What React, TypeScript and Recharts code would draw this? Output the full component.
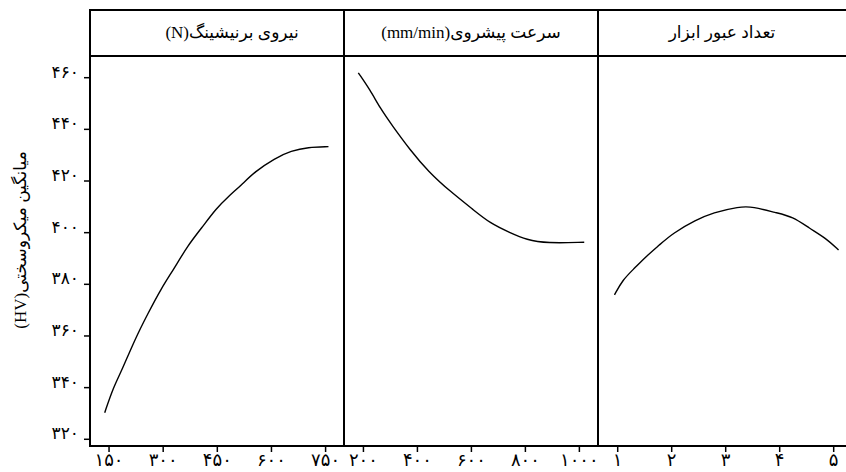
import React from "react";
import { LineChart, Line, XAxis, YAxis } from "recharts";

// y axis (mean microhardness HV)
const yTicks = [320, 340, 360, 380, 400, 420, 440, 460];

// panel 1: burnishing force (N)
const forceTicks = [150, 300, 450, 600, 750];
const forceX = [138, 161, 184, 221, 258, 295, 328, 369, 406, 447, 480, 517, 554, 609, 655, 701, 758];
const forceY = [330.3, 339.8, 346.2, 358.5, 368.8, 378.5, 385.6, 395.2, 401.7, 409.4, 413.9, 418.5, 423.6, 428.8, 431.7, 433.1, 433.3];

// panel 2: feed rate (mm/min)
const feedTicks = [200, 400, 600, 800, 1000];
const feedX = [181, 225, 262, 305, 373, 441, 522, 608, 670, 743, 805, 879, 1018];
const feedY = [461.9, 455.2, 448.2, 441.7, 432, 423.6, 415.9, 408.8, 403.6, 400, 397.2, 395.9, 396.3];

// panel 3: number of tool passes
const passTicks = [1, 2, 3, 4, 5];
const passX = [0.94, 1.09, 1.31, 1.52, 1.77, 2.02, 2.45, 2.76, 3.25, 3.5, 3.93, 4.24, 4.55, 4.86, 5.09];
const passY = [375.9, 381.7, 386.2, 390.7, 395.2, 399.8, 404.9, 407.7, 410.1, 410.1, 407.7, 406.2, 401.7, 397.8, 393.3];

const titles = ["نیروی برنیشینگ(N)", "سرعت پیشروی(mm/min)", "تعداد عبور ابزار"];
const yTitle = "میانگین میکروسختی(HV)";

const faDigits = "۰۱۲۳۴۵۶۷۸۹";
const toFa = (v: number) => String(v).replace(/\d/g, (d) => faDigits[Number(d)]);

const zip = (xs: number[], ys: number[]) => xs.map((x, i) => ({ x, y: ys[i] }));

const FONT = "'Times New Roman', 'Liberation Serif', 'DejaVu Sans', serif";
const Y_DOMAIN: [number, number] = [317.4, 468.4];

const YTick = (props: any) => {
  const { x, y, payload } = props;
  return (
    <text x={x} y={y - 6} dy="0.35em" textAnchor="end" fill="#000" fontSize={17} fontFamily={FONT}>
      {toFa(payload.value)}
    </text>
  );
};

const XTick = (props: any) => {
  const { x, y, payload } = props;
  return (
    <text x={x} y={y} dy="0.71em" textAnchor="middle" fill="#000" fontSize={18} fontFamily={FONT}>
      {toFa(payload.value)}
    </text>
  );
};

function Panel({
  left,
  width,
  domain,
  ticks,
  data,
  showY,
}: {
  left: number;
  width: number;
  domain: [number, number];
  ticks: number[];
  data: { x: number; y: number }[];
  showY: boolean;
}) {
  return (
    <div style={{ position: "absolute", left, top: 0 }}>
      <LineChart
        width={width}
        height={472}
        data={data}
        margin={{ top: 56, right: 0, left: 0, bottom: 0 }}
      >
        <XAxis
          type="number"
          dataKey="x"
          domain={domain}
          ticks={ticks}
          allowDataOverflow
          height={26}
          axisLine={false}
          tickLine={{ stroke: "#000", strokeWidth: 1.5 }}
          tickSize={6}
          tickMargin={1}
          tick={<XTick />}
        />
        <YAxis
          type="number"
          domain={Y_DOMAIN}
          ticks={yTicks}
          allowDataOverflow
          hide={!showY}
          width={showY ? 91 : 0}
          axisLine={false}
          tickLine={{ stroke: "#000", strokeWidth: 1.5 }}
          tickSize={7}
          tickMargin={5}
          tick={<YTick />}
        />
        <Line
          dataKey="y"
          type="basis"
          stroke="#000"
          strokeWidth={1.4}
          dot={false}
          isAnimationActive={false}
        />
      </LineChart>
    </div>
  );
}

const line = (l: number, t: number, w: number, h: number) => (
  <div style={{ position: "absolute", left: l, top: t, width: w, height: h, background: "#000" }} />
);

export default function App() {
  const headers = [
    { left: 90, width: 254, pad: 30 },
    { left: 344, width: 254, pad: 0 },
    { left: 598, width: 248, pad: 0 },
  ];
  return (
    <div
      style={{
        position: "absolute",
        left: 0,
        top: 0,
        width: 846,
        height: 472,
        overflow: "hidden",
        background: "#fff",
        fontFamily: FONT,
      }}
    >
      <Panel left={0} width={344} domain={[100, 801]} ticks={forceTicks} data={zip(forceX, forceY)} showY />
      <Panel left={344} width={254} domain={[128, 1069]} ticks={feedTicks} data={zip(feedX, feedY)} showY={false} />
      <Panel left={598} width={248} domain={[0.635, 5.228]} ticks={passTicks} data={zip(passX, passY)} showY={false} />

      {headers.map((h, i) => (
        <div
          key={i}
          style={{
            position: "absolute",
            left: h.left,
            top: 10,
            width: h.width,
            height: 46,
            lineHeight: "46px",
            textAlign: "center",
            direction: "rtl",
            fontSize: 17,
            paddingLeft: h.pad,
            boxSizing: "border-box",
          }}
        >
          {titles[i]}
        </div>
      ))}

      {/* frame lines */}
      {line(89, 9, 757, 2)}
      {line(89, 55, 757, 2)}
      {line(89, 445, 757, 2)}
      {line(89, 9, 2, 438)}
      {line(343, 9, 2, 438)}
      {line(597, 9, 2, 438)}

      <div
        style={{
          position: "absolute",
          left: 20,
          top: 240,
          transform: "translate(-50%, -50%) rotate(-90deg)",
          whiteSpace: "nowrap",
          direction: "rtl",
          fontSize: 17,
        }}
      >
        {yTitle}
      </div>
    </div>
  );
}
